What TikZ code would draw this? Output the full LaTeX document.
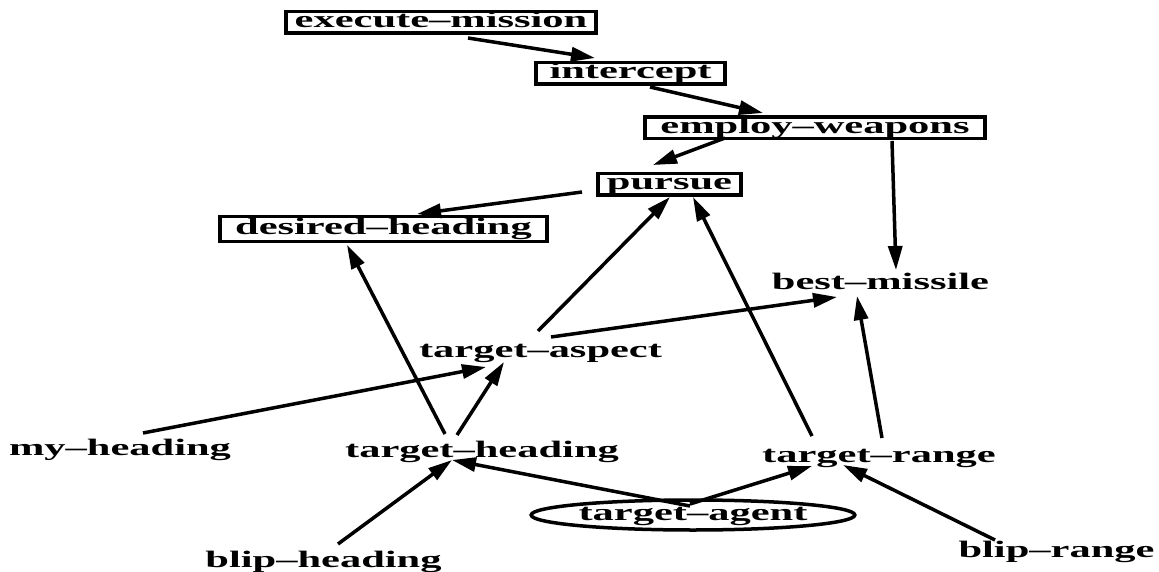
\documentclass[tikz,border=0pt]{standalone}
\usepackage{fontspec}
\newfontfamily\graphfont[FakeStretch=1.8,Ligatures=TeX]{Liberation Serif}
\usetikzlibrary{arrows.meta,calc,shapes.geometric}
\tikzset{
  lbl/.style={font=\graphfont\bfseries\fontsize{23.6}{28}\selectfont,
              inner sep=0pt,text height=15pt,text depth=4pt},
  goal/.style={lbl,draw,line width=3.5pt,minimum height=21.5pt,minimum width=#1},
  agent/.style={lbl,ellipse,draw,line width=3.5pt,minimum width=308pt,minimum height=30pt},
  link/.style={-{Triangle[length=24pt,width=14pt]},line width=3.5pt},
}

\begin{document}
\begin{tikzpicture}[x=1pt,y=-1pt]
\useasboundingbox (0,0) rectangle (1159,572);

% ---------------------------------------------------------------- goals
\node[goal=310pt] (em) at (441,22.5)  {execute--mission};
\node[goal=189pt] (ic) at (630.5,73.5) {intercept};
\node[goal=340pt] (ew) at (815,128)   {employ--weapons};
\node[goal=143pt] (pu) at (669.5,184.5) {pursue};
\node[goal=327pt,minimum height=24.5pt] (dh) at (383.5,229) {desired--heading};

% ---------------------------------------------------------------- facts
\node[lbl] (bm) at (880.5,284) {best--missile};
\node[lbl] (ta) at (540.5,352) {target--aspect};
\node[lbl] (mh) at (120,450)   {my--heading};
\node[lbl] (th) at (482,452)   {target--heading};
\node[lbl] (tr) at (879,457)   {target--range};
\node[agent] (tg) at (693,515) {target--agent};
\node[lbl] (bh) at (323.5,562) {blip--heading};
\node[lbl] (br) at (1056.5,552) {blip--range};

% ---------------------------------------------------------------- arrows
\draw[link] ($(em)+(27,15.5)$) -- ($(ic)+(-35.5,-15.5)$);
\draw[link] ($(ic)+(19.5,13.5)$) -- ($(ew)+(-52,-15)$);
\draw[link] ($(ew)+(-90,10)$) -- ($(pu)+(-16.5,-19.5)$);
\draw[link] ($(ew)+(77,13)$) -- ($(bm)+(15.5,-14)$);
\draw[link] ($(pu)+(-87.5,7.5)$) -- ($(dh)+(33.5,-15)$);

\draw[link] ($(ta)+(-2.5,-21)$) -- ($(pu)+(0.5,12.5)$);
\draw[link] ($(tr)+(-67,-21)$) -- ($(pu)+(23.5,12.5)$);
\draw[link] ($(ta)+(10.5,-15)$) -- ($(bm)+(-43.5,13)$);
\draw[link] ($(tr)+(3,-19)$) -- ($(bm)+(-23.5,12)$);

\draw[link] ($(th)+(-37,-18)$) -- ($(dh)+(-36.5,16)$);
\draw[link] ($(th)+(-25,-17)$) -- ($(ta)+(-36.5,10)$);
\draw[link] ($(mh)+(23,-17)$) -- ($(ta)+(-54.5,15)$);

\draw[link] ($(bh)+(14.5,-18)$) -- ($(th)+(-30,8)$);
\draw[link] ($(tg)+(-3,-9)$) -- ($(th)+(-30,8)$);
\draw[link] ($(tg)+(-3,-11)$) -- ($(tr)+(-67,9)$);
\draw[link] ($(br)+(-61.5,-12)$) -- ($(tr)+(-36,8)$);

\end{tikzpicture}
\end{document}
